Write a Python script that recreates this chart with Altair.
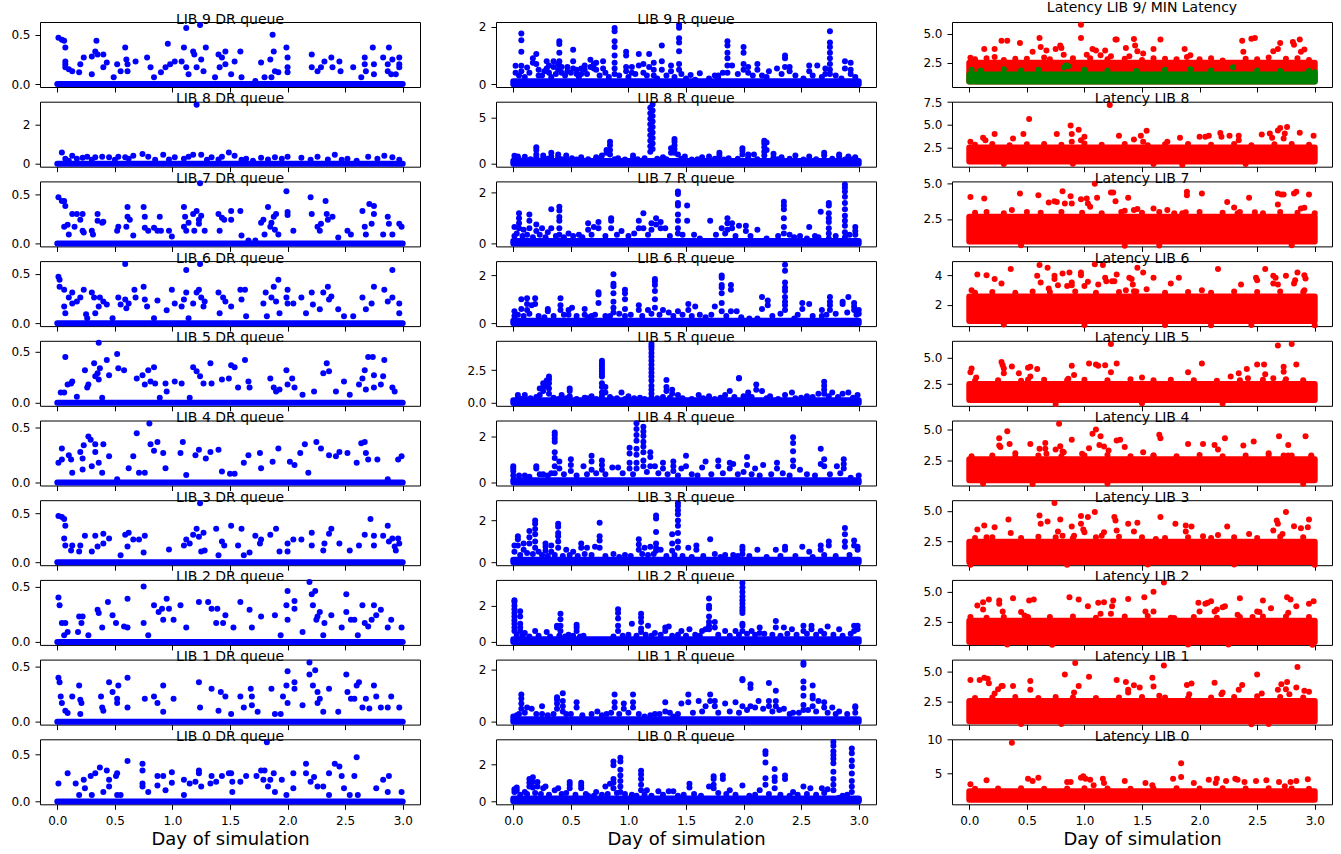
import altair as alt
import pandas as pd

BLUE, RED, GREEN = "#0000ff", "#ff0000", "#008000"
FONT = "DejaVu Sans"
W, H = 380, 65

LIBS = [9, 8, 7, 6, 5, 4, 3, 2, 1, 0]
DAY_START, DAY_END = 0.0, 3.0
X_LIMITS = [-0.15, 3.15]
X_TICKS = [0.0, 0.5, 1.0, 1.5, 2.0, 2.5, 3.0]

# ---------------- DR queue (x = day, y = queue) ----------------
DR = {
9: [(0.01,0.47),(0.04,0.45),(0.06,0.44),(0.07,0.37),(0.07,0.23),(0.07,0.2),(0.07,0.17),(0.1,0.15),(0.13,0.13),(0.19,0.12),(0.2,0.2),(0.23,0.27),(0.3,0.1),(0.3,0.28),(0.33,0.33),(0.34,0.44),(0.35,0.3),(0.4,0.3),(0.4,0.17),(0.43,0.22),(0.49,0.07),(0.52,0.2),(0.55,0.13),(0.59,0.37),(0.6,0.25),(0.61,0.13),(0.61,0.2),(0.68,0.23),(0.78,0.27),(0.81,0.17),(0.84,0.07),(0.9,0.12),(0.94,0.17),(0.96,0.41),(0.98,0.2),(1.02,0.23),(1.08,0.23),(1.1,0.37),(1.12,0.57),(1.12,0.17),(1.14,0.1),(1.18,0.33),(1.19,0.3),(1.21,0.17),(1.24,0.6),(1.25,0.25),(1.27,0.13),(1.29,0.37),(1.37,0.07),(1.4,0.3),(1.41,0.17),(1.43,0.27),(1.46,0.33),(1.46,0.2),(1.51,0.1),(1.54,0.23),(1.59,0.33),(1.6,0.07),(1.72,0.03),(1.77,0.22),(1.8,0.07),(1.85,0.25),(1.86,0.07),(1.87,0.5),(1.88,0.33),(1.89,0.13),(1.92,0.12),(1.99,0.37),(2.0,0.27),(2.0,0.17),(2.0,0.12),(2.21,0.3),(2.21,0.17),(2.26,0.13),(2.29,0.17),(2.32,0.23),(2.38,0.27),(2.39,0.17),(2.45,0.23),(2.46,0.13),(2.57,0.17),(2.64,0.07),(2.67,0.27),(2.67,0.2),(2.68,0.13),(2.74,0.37),(2.75,0.2),(2.75,0.1),(2.83,0.27),(2.88,0.37),(2.87,0.2),(2.87,0.13),(2.9,0.1),(2.91,0.25),(2.97,0.27),(2.97,0.2),(2.97,0.17),(2.94,0.1)],
8: [(0.04,0.57),(0.07,0.25),(0.13,0.4),(0.22,0.3),(0.26,0.36),(0.33,0.33),(0.39,0.36),(0.45,0.33),(0.53,0.36),(0.59,0.33),(0.66,0.4),(0.74,0.5),(0.79,0.36),(0.92,0.46),(1.02,0.33),(1.14,0.36),(1.18,0.46),(1.21,3.0),(1.25,0.46),(1.34,0.33),(1.43,0.36),(1.49,0.57),(1.54,0.4),(1.64,0.25),(1.77,0.3),(1.89,0.33),(2.0,0.36),(2.12,0.3),(2.26,0.36),(2.41,0.46),(2.52,0.25),(2.7,0.36),(2.84,0.4),(2.91,0.33),(2.97,0.2),(0.1,0.15),(0.5,0.2),(0.85,0.2),(1.3,0.2),(1.7,0.15),(2.2,0.2),(2.6,0.15),(0.17,0.25),(0.3,0.2),(0.62,0.25),(0.97,0.22),(1.1,0.25),(1.4,0.22),(1.6,0.2),(1.83,0.22),(1.95,0.25),(2.35,0.22),(2.47,0.2),(2.78,0.25)],
7: [(0.01,0.47),(0.04,0.43),(0.06,0.43),(0.07,0.38),(0.06,0.17),(0.09,0.19),(0.1,0.09),(0.13,0.3),(0.17,0.3),(0.22,0.3),(0.2,0.24),(0.15,0.17),(0.22,0.13),(0.23,0.11),(0.3,0.13),(0.31,0.09),(0.35,0.3),(0.35,0.23),(0.39,0.21),(0.4,0.22),(0.52,0.13),(0.53,0.17),(0.61,0.37),(0.61,0.27),(0.6,0.17),(0.63,0.24),(0.66,0.08),(0.75,0.37),(0.76,0.27),(0.76,0.16),(0.79,0.13),(0.84,0.16),(0.87,0.13),(0.89,0.27),(0.9,0.13),(0.97,0.13),(0.995,0.07),(1.1,0.37),(1.11,0.27),(1.1,0.17),(1.12,0.13),(1.14,0.21),(1.18,0.3),(1.19,0.13),(1.21,0.33),(1.23,0.24),(1.23,0.2),(1.24,0.61),(1.25,0.28),(1.28,0.13),(1.4,0.3),(1.41,0.13),(1.43,0.26),(1.45,0.24),(1.51,0.33),(1.51,0.24),(1.59,0.33),(1.6,0.08),(1.66,0.03),(1.72,0.03),(1.77,0.21),(1.79,0.24),(1.8,0.09),(1.83,0.37),(1.85,0.17),(1.86,0.21),(1.88,0.27),(1.89,0.14),(1.9,0.3),(1.92,0.09),(1.99,0.53),(2.0,0.32),(2.0,0.29),(2.05,0.13),(2.2,0.47),(2.21,0.3),(2.26,0.17),(2.28,0.13),(2.29,0.2),(2.33,0.43),(2.34,0.3),(2.35,0.24),(2.39,0.27),(2.44,0.06),(2.52,0.13),(2.55,0.09),(2.65,0.33),(2.67,0.17),(2.68,0.09),(2.71,0.4),(2.73,0.2),(2.75,0.38),(2.75,0.3),(2.83,0.09),(2.87,0.27),(2.88,0.2),(2.91,0.09),(2.97,0.2),(2.99,0.17)],
6: [(0.01,0.47),(0.02,0.44),(0.02,0.37),(0.06,0.34),(0.06,0.17),(0.07,0.1),(0.1,0.26),(0.13,0.31),(0.13,0.2),(0.17,0.22),(0.2,0.26),(0.23,0.34),(0.25,0.09),(0.26,0.05),(0.3,0.31),(0.32,0.26),(0.33,0.1),(0.36,0.17),(0.37,0.26),(0.4,0.22),(0.43,0.19),(0.48,0.05),(0.53,0.26),(0.55,0.19),(0.59,0.6),(0.59,0.24),(0.6,0.15),(0.62,0.2),(0.67,0.34),(0.68,0.26),(0.75,0.37),(0.76,0.24),(0.78,0.17),(0.84,0.05),(0.87,0.23),(0.95,0.13),(0.995,0.34),(1.02,0.2),(1.08,0.17),(1.1,0.24),(1.12,0.54),(1.12,0.31),(1.14,0.05),(1.18,0.2),(1.21,0.31),(1.23,0.34),(1.24,0.6),(1.25,0.26),(1.27,0.17),(1.28,0.22),(1.4,0.31),(1.41,0.1),(1.44,0.26),(1.46,0.22),(1.51,0.17),(1.59,0.34),(1.6,0.24),(1.63,0.34),(1.64,0.07),(1.79,0.2),(1.81,0.31),(1.82,0.07),(1.86,0.26),(1.88,0.37),(1.9,0.22),(1.92,0.44),(1.93,0.1),(1.99,0.26),(2.0,0.34),(2.0,0.2),(2.05,0.2),(2.12,0.26),(2.16,0.1),(2.21,0.31),(2.22,0.19),(2.28,0.14),(2.31,0.31),(2.35,0.37),(2.36,0.24),(2.38,0.27),(2.44,0.14),(2.49,0.07),(2.57,0.07),(2.65,0.26),(2.68,0.14),(2.73,0.2),(2.75,0.37),(2.84,0.34),(2.87,0.22),(2.91,0.54),(2.91,0.26),(2.97,0.2),(2.97,0.1)],
5: [(0.03,0.1),(0.06,0.1),(0.07,0.45),(0.09,0.18),(0.12,0.19),(0.13,0.21),(0.17,0.06),(0.24,0.32),(0.26,0.15),(0.27,0.18),(0.32,0.39),(0.33,0.26),(0.35,0.29),(0.36,0.59),(0.36,0.23),(0.37,0.34),(0.39,0.05),(0.43,0.42),(0.45,0.27),(0.52,0.48),(0.53,0.34),(0.58,0.32),(0.69,0.24),(0.74,0.27),(0.76,0.18),(0.79,0.32),(0.81,0.21),(0.84,0.35),(0.85,0.19),(0.89,0.05),(0.94,0.19),(0.95,0.11),(1.02,0.21),(1.08,0.19),(1.15,0.05),(1.18,0.35),(1.21,0.31),(1.24,0.26),(1.27,0.19),(1.33,0.39),(1.34,0.19),(1.43,0.23),(1.49,0.24),(1.51,0.37),(1.54,0.35),(1.57,0.15),(1.63,0.42),(1.66,0.21),(1.67,0.15),(1.85,0.24),(1.88,0.15),(1.9,0.11),(1.93,0.13),(1.99,0.32),(2.0,0.18),(2.04,0.24),(2.06,0.15),(2.13,0.08),(2.23,0.11),(2.31,0.29),(2.34,0.39),(2.36,0.31),(2.42,0.11),(2.49,0.21),(2.54,0.08),(2.62,0.18),(2.65,0.24),(2.67,0.32),(2.68,0.13),(2.7,0.45),(2.74,0.45),(2.75,0.27),(2.75,0.15),(2.81,0.18),(2.83,0.26),(2.84,0.42),(2.91,0.15),(2.93,0.11)],
4: [(0.01,0.18),(0.04,0.31),(0.04,0.21),(0.1,0.25),(0.12,0.21),(0.13,0.09),(0.2,0.28),(0.22,0.22),(0.22,0.12),(0.23,0.34),(0.27,0.42),(0.29,0.39),(0.3,0.15),(0.33,0.28),(0.33,0.35),(0.36,0.18),(0.39,0.09),(0.4,0.35),(0.45,0.24),(0.52,0.03),(0.62,0.13),(0.66,0.24),(0.69,0.45),(0.71,0.09),(0.8,0.54),(0.76,0.09),(0.81,0.35),(0.84,0.29),(0.87,0.37),(0.92,0.27),(0.94,0.13),(1.07,0.27),(1.09,0.37),(1.12,0.07),(1.2,0.25),(1.23,0.3),(1.29,0.22),(1.33,0.28),(1.4,0.3),(1.43,0.1),(1.5,0.08),(1.54,0.08),(1.62,0.18),(1.66,0.25),(1.76,0.27),(1.77,0.13),(1.87,0.19),(1.92,0.31),(2.02,0.19),(2.06,0.16),(2.11,0.27),(2.15,0.35),(2.18,0.09),(2.25,0.37),(2.29,0.31),(2.36,0.25),(2.42,0.24),(2.45,0.28),(2.52,0.27),(2.6,0.18),(2.64,0.36),(2.67,0.37),(2.68,0.27),(2.7,0.21),(2.78,0.21),(2.87,0.03),(2.96,0.21),(2.99,0.24)],
3: [(0.01,0.47),(0.04,0.46),(0.06,0.44),(0.07,0.37),(0.06,0.24),(0.07,0.17),(0.12,0.12),(0.13,0.17),(0.19,0.11),(0.2,0.17),(0.24,0.27),(0.3,0.11),(0.33,0.27),(0.35,0.16),(0.4,0.29),(0.4,0.19),(0.45,0.24),(0.55,0.07),(0.59,0.28),(0.61,0.16),(0.62,0.3),(0.66,0.23),(0.71,0.23),(0.75,0.1),(0.76,0.27),(0.97,0.13),(1.1,0.17),(1.12,0.23),(1.15,0.19),(1.18,0.28),(1.21,0.34),(1.23,0.26),(1.24,0.6),(1.25,0.11),(1.27,0.3),(1.28,0.12),(1.38,0.34),(1.4,0.07),(1.43,0.21),(1.45,0.17),(1.51,0.37),(1.57,0.17),(1.6,0.34),(1.62,0.07),(1.67,0.1),(1.72,0.27),(1.76,0.19),(1.77,0.23),(1.85,0.28),(1.9,0.34),(1.93,0.11),(2.0,0.19),(2.0,0.11),(2.05,0.23),(2.12,0.23),(2.21,0.3),(2.21,0.17),(2.31,0.12),(2.32,0.19),(2.36,0.29),(2.38,0.34),(2.45,0.19),(2.54,0.12),(2.62,0.17),(2.67,0.28),(2.72,0.44),(2.75,0.27),(2.75,0.17),(2.83,0.27),(2.87,0.37),(2.88,0.21),(2.91,0.24),(2.93,0.16),(2.94,0.12),(2.97,0.19),(2.96,0.24)],
2: [(0.01,0.4),(0.02,0.33),(0.04,0.17),(0.07,0.17),(0.06,0.06),(0.09,0.09),(0.19,0.23),(0.22,0.23),(0.21,0.17),(0.18,0.09),(0.27,0.06),(0.35,0.29),(0.36,0.26),(0.39,0.13),(0.44,0.36),(0.48,0.24),(0.51,0.17),(0.58,0.14),(0.61,0.39),(0.61,0.13),(0.75,0.5),(0.75,0.17),(0.79,0.06),(0.84,0.33),(0.88,0.27),(0.91,0.3),(0.92,0.2),(0.95,0.39),(0.97,0.3),(1.01,0.2),(1.07,0.33),(1.12,0.13),(1.23,0.36),(1.31,0.36),(1.34,0.3),(1.38,0.17),(1.39,0.3),(1.44,0.17),(1.46,0.24),(1.53,0.13),(1.59,0.36),(1.67,0.29),(1.69,0.13),(1.77,0.23),(1.89,0.24),(1.94,0.06),(1.99,0.33),(2.0,0.46),(2.0,0.2),(2.06,0.37),(2.06,0.3),(2.13,0.09),(2.19,0.54),(2.21,0.43),(2.24,0.46),(2.22,0.33),(2.25,0.2),(2.26,0.23),(2.28,0.27),(2.31,0.06),(2.32,0.17),(2.38,0.24),(2.47,0.13),(2.51,0.43),(2.51,0.27),(2.55,0.2),(2.58,0.2),(2.61,0.06),(2.65,0.33),(2.67,0.17),(2.7,0.14),(2.73,0.2),(2.75,0.33),(2.77,0.24),(2.81,0.29),(2.87,0.13),(2.9,0.2),(2.99,0.13)],
1: [(0.01,0.4),(0.02,0.36),(0.03,0.23),(0.04,0.17),(0.07,0.1),(0.09,0.08),(0.13,0.23),(0.19,0.33),(0.2,0.2),(0.21,0.17),(0.2,0.07),(0.38,0.23),(0.39,0.13),(0.4,0.1),(0.45,0.36),(0.48,0.27),(0.52,0.21),(0.52,0.17),(0.53,0.33),(0.61,0.4),(0.61,0.13),(0.76,0.21),(0.84,0.23),(0.87,0.17),(0.92,0.33),(0.92,0.09),(1.01,0.21),(1.23,0.36),(1.24,0.13),(1.34,0.3),(1.4,0.1),(1.42,0.27),(1.46,0.23),(1.51,0.07),(1.59,0.23),(1.62,0.13),(1.68,0.3),(1.69,0.23),(1.69,0.15),(1.74,0.09),(1.86,0.3),(1.89,0.07),(1.94,0.07),(1.96,0.23),(1.99,0.33),(2.0,0.46),(2.0,0.17),(2.06,0.36),(2.06,0.3),(2.13,0.15),(2.19,0.54),(2.19,0.43),(2.22,0.33),(2.24,0.47),(2.26,0.27),(2.26,0.17),(2.28,0.21),(2.31,0.09),(2.36,0.3),(2.44,0.09),(2.51,0.43),(2.52,0.27),(2.55,0.21),(2.58,0.21),(2.6,0.33),(2.62,0.36),(2.65,0.13),(2.68,0.21),(2.71,0.12),(2.75,0.33),(2.77,0.23),(2.81,0.13),(2.87,0.13),(2.9,0.23),(2.97,0.13)],
0: [(0.01,0.19),(0.09,0.3),(0.16,0.19),(0.19,0.07),(0.23,0.23),(0.24,0.14),(0.29,0.27),(0.3,0.07),(0.33,0.3),(0.37,0.36),(0.4,0.1),(0.43,0.33),(0.45,0.23),(0.45,0.16),(0.52,0.3),(0.51,0.27),(0.52,0.07),(0.55,0.07),(0.61,0.43),(0.74,0.4),(0.74,0.33),(0.74,0.19),(0.74,0.16),(0.79,0.1),(0.87,0.17),(0.87,0.27),(0.92,0.27),(0.94,0.12),(0.995,0.31),(0.995,0.2),(1.1,0.23),(1.1,0.07),(1.15,0.19),(1.2,0.21),(1.23,0.33),(1.23,0.3),(1.25,0.16),(1.33,0.19),(1.34,0.27),(1.38,0.21),(1.43,0.27),(1.49,0.3),(1.51,0.3),(1.52,0.21),(1.52,0.1),(1.59,0.21),(1.64,0.27),(1.73,0.27),(1.77,0.33),(1.79,0.23),(1.8,0.33),(1.82,0.63),(1.83,0.16),(1.85,0.23),(1.88,0.3),(1.89,0.1),(1.95,0.23),(1.99,0.07),(2.05,0.3),(2.05,0.14),(2.16,0.4),(2.16,0.3),(2.2,0.21),(2.23,0.26),(2.26,0.16),(2.31,0.16),(2.36,0.3),(2.36,0.07),(2.41,0.4),(2.45,0.37),(2.47,0.27),(2.49,0.14),(2.54,0.07),(2.58,0.27),(2.6,0.47),(2.61,0.07),(2.77,0.14),(2.83,0.23),(2.87,0.1),(2.88,0.27),(2.99,0.1)],
}

# ---------------- R queue: (day, [queue values at that day]) ----------------
R = {
9: [(0.02,[0.64,0.4]),(0.07,[1.77,1.53,1.13,0.64,0.45]),(0.12,[0.58]),(0.17,[0.9,0.75]),(0.2,[1.05,0.7]),(0.22,[0.5,0.3]),(0.29,[0.8,0.55]),(0.31,[0.65,0.4]),(0.35,[0.8,0.6]),(0.39,[0.7,0.5]),(0.4,[1.5,1.4,1.1,0.8,0.65]),(0.42,[0.6,0.4]),(0.47,[0.6,0.45]),(0.52,[1.2,0.8,0.55]),(0.55,[0.5,0.35]),(0.59,[0.55,0.35]),(0.62,[0.65,0.5]),(0.67,[0.85,0.6]),(0.7,[0.7,0.55]),(0.72,[0.75,0.5]),(0.78,[0.8,0.55]),(0.83,[0.25]),(0.88,[1.96,1.85,1.5,1.3,1.0,0.75,0.55,0.35]),(0.98,[1.13,1.0,0.6,0.45]),(1.03,[0.6,0.4]),(1.09,[1.05,0.65]),(1.13,[0.7,0.4]),(1.18,[1.05,0.6]),(1.22,[0.75,0.5,0.3]),(1.29,[1.35,0.8,0.5]),(1.37,[0.65,0.45]),(1.44,[2.07,1.97,1.6,1.45,1.15,0.7,0.5]),(1.46,[0.35]),(1.54,[0.32]),(1.62,[0.38]),(1.78,[0.3,0.2]),(1.86,[1.5,1.35,1.1,0.9,0.65,0.4]),(1.9,[0.65]),(2.0,[1.3,1.1,0.7,0.5]),(2.04,[0.6,0.4]),(2.12,[0.7,0.5]),(2.16,[0.3]),(2.22,[0.45]),(2.29,[0.55]),(2.36,[1.0,0.9,0.6]),(2.4,[0.6,0.45]),(2.57,[0.65,0.45]),(2.64,[0.65]),(2.71,[0.55,0.35]),(2.75,[1.85,1.45,1.3,1.1,0.9,0.7,0.5,0.35]),(2.88,[0.8,0.55]),(2.93,[0.75,0.5,0.35])],
8: [(0.01,[0.87,0.5]),(0.04,[0.8]),(0.1,[0.75,0.5]),(0.2,[1.8,1.5,1.0,0.7]),(0.26,[0.9,0.6]),(0.33,[1.2,0.8]),(0.39,[1.0,0.7]),(0.46,[0.9,0.6]),(0.51,[0.6]),(0.59,[0.7]),(0.72,[0.7]),(0.77,[0.9]),(0.81,[1.5,1.2]),(0.84,[2.4,2.0,1.5,1.0]),(0.91,[0.6]),(1.04,[0.9,0.6]),(1.14,[0.6]),(1.19,[6.1,5.5,4.9,4.3,3.7,3.1,2.5,1.9,1.3]),(1.21,[6.45,5.8,5.2,4.6,4.0,3.4,2.8,2.2,1.6]),(1.3,[0.7]),(1.37,[1.7,1.2]),(1.4,[2.7,2.4,2.0,1.6,1.2]),(1.43,[1.0]),(1.49,[0.8]),(1.64,[0.7]),(1.7,[0.8]),(1.79,[1.2,0.9]),(1.87,[0.6]),(1.99,[1.7,1.4,1.0]),(2.04,[1.0,0.7]),(2.09,[1.0]),(2.18,[2.5,2.2,1.8,1.3,0.9]),(2.2,[2.3,1.5]),(2.26,[1.1,0.7]),(2.33,[0.7]),(2.45,[0.9]),(2.57,[0.8]),(2.7,[1.2,0.9]),(2.83,[1.0,0.8]),(2.91,[0.8]),(2.97,[0.7])],
7: [(0.01,[0.65,0.3]),(0.05,[1.2,1.0,0.8,0.6]),(0.09,[0.55]),(0.14,[1.15,0.9,0.6]),(0.2,[0.75,0.5]),(0.25,[0.6]),(0.3,[0.45]),(0.33,[1.35,0.6]),(0.4,[1.45,1.3,1.05,0.9,0.6,0.35]),(0.48,[0.4]),(0.57,[0.35]),(0.65,[0.8,0.55]),(0.7,[0.65]),(0.74,[0.85,0.6]),(0.85,[1.0,0.9,0.6]),(0.94,[0.5]),(1.09,[0.9,0.6]),(1.13,[1.2,0.6]),(1.2,[0.8,0.55]),(1.24,[1.0,0.75]),(1.28,[0.85,0.6]),(1.32,[0.6]),(1.43,[2.05,1.95,1.6,1.5,1.15,0.9,0.6,0.4]),(1.51,[1.5,0.9]),(1.57,[0.35]),(1.71,[0.9]),(1.81,[0.6]),(1.86,[1.0,0.8,0.55]),(1.9,[0.8,0.6]),(1.96,[0.7]),(2.02,[0.7,0.5]),(2.12,[0.55]),(2.35,[1.65,1.5,1.35,1.0,0.65,0.4]),(2.44,[0.25]),(2.49,[0.3]),(2.57,[0.65]),(2.65,[0.25]),(2.67,[1.25]),(2.74,[1.6,1.5,1.2,1.0,0.85,0.6,0.4,0.2]),(2.88,[2.33,2.2,2.05,1.85,1.6,1.35,1.1,0.9,0.7,0.45,0.25]),(2.97,[0.65,0.5,0.35])],
6: [(0.01,[0.5,0.3]),(0.07,[1.0,0.6]),(0.12,[1.05,0.8,0.55]),(0.16,[0.75]),(0.19,[1.05,0.8]),(0.3,[0.6,0.5]),(0.41,[1.05,0.75,0.55]),(0.48,[0.55,0.35]),(0.51,[0.65]),(0.62,[0.6,0.35]),(0.68,[0.3]),(0.74,[1.3,1.2,0.85]),(0.8,[0.3]),(0.87,[2.05,1.65,1.55,1.25,0.9,0.65,0.45]),(0.97,[1.4,1.25,1.0,0.6,0.3]),(1.09,[0.75,0.55]),(1.17,[0.55]),(1.23,[1.85,1.75,1.6,1.35,1.0,0.65]),(1.3,[0.55]),(1.35,[0.45]),(1.43,[0.5]),(1.52,[0.8,0.55]),(1.58,[0.7]),(1.62,[0.35]),(1.75,[0.7]),(1.81,[2.0,1.9,1.6,1.5,1.25,0.85,0.5]),(1.89,[1.6,1.4,0.5]),(1.94,[0.5]),(2.12,[0.2]),(2.16,[1.1,0.6]),(2.21,[0.95,0.75]),(2.36,[2.45,2.2,1.7,1.5,1.35,1.1,0.9,0.75,0.55]),(2.44,[0.2]),(2.51,[0.85,0.6]),(2.57,[0.8]),(2.68,[0.55,0.3]),(2.75,[1.1,0.9,0.75,0.55]),(2.86,[0.9,0.8]),(2.91,[1.1]),(2.96,[0.85,0.7,0.55]),(3.0,[0.55,0.4])],
5: [(0.01,[0.15]),(0.04,[0.6,0.4]),(0.1,[0.6,0.4]),(0.23,[1.1,0.6]),(0.26,[1.5,1.2,0.9]),(0.29,[1.7,1.3]),(0.31,[2.0,1.8,1.5,1.1,0.7]),(0.42,[0.6]),(0.49,[1.1,0.9,0.5]),(0.62,[0.4]),(0.68,[0.5]),(0.77,[3.2,3.0,2.8,2.6,2.4,2.2,2.0,1.5,1.2,0.8,0.5]),(0.8,[1.2,0.8]),(0.86,[0.3]),(0.94,[0.8]),(1.0,[0.5]),(1.1,[0.4]),(1.2,[4.5,4.3,4.1,3.8,3.5,3.2,2.9,2.6,2.3,2.0,1.7,1.3,1.0,0.7,0.4]),(1.33,[1.75,1.2,0.9]),(1.38,[1.0,0.7]),(1.43,[0.6]),(1.61,[0.6]),(1.7,[0.5]),(1.84,[0.6]),(1.88,[0.9]),(1.96,[1.9,1.85]),(2.04,[0.8,0.6]),(2.11,[1.4,1.0]),(2.16,[0.9]),(2.23,[0.5]),(2.36,[0.6]),(2.42,[0.8]),(2.55,[0.5]),(2.65,[0.7]),(2.7,[1.6,1.3,1.0,0.7]),(2.77,[0.8]),(2.86,[0.7]),(2.91,[0.8]),(2.99,[0.6])],
4: [(0.0,[0.7,0.6,0.5,0.3]),(0.1,[0.3]),(0.2,[0.7,0.6]),(0.26,[0.35]),(0.36,[2.15,2.05,1.9,1.75,1.3,1.05,0.7,0.4]),(0.4,[0.9,0.6]),(0.5,[1.0,0.75,0.5]),(0.61,[0.7]),(0.68,[1.15,0.9,0.55]),(0.77,[0.95,0.75,0.55]),(0.86,[0.65]),(0.91,[0.65]),(1.01,[1.5,1.25,0.85,0.6]),(1.07,[2.55,2.3,2.05,1.8,1.45,1.2,0.85,0.6]),(1.13,[2.4,2.2,2.0,1.75,1.55,1.3,0.95,0.7]),(1.19,[1.3,1.1,0.7]),(1.23,[0.7]),(1.3,[0.85,0.6]),(1.39,[0.9,0.7,0.5]),(1.46,[0.6]),(1.5,[1.15,0.7]),(1.64,[0.65]),(1.67,[0.9]),(1.78,[0.95,0.7]),(1.88,[0.85,0.6]),(1.91,[0.8]),(2.03,[1.1,0.75]),(2.1,[0.6]),(2.17,[0.75]),(2.29,[0.85,0.6]),(2.43,[1.95,1.7,1.35,0.95,0.7]),(2.49,[0.55]),(2.67,[1.45,0.8]),(2.7,[1.0,0.7]),(2.81,[0.7]),(2.87,[1.0,0.8,0.6]),(3.0,[0.3])],
3: [(0.01,[0.8,0.5]),(0.04,[1.25,1.1,0.8]),(0.09,[0.9,0.6]),(0.14,[1.5,1.2,0.9]),(0.19,[2.0,1.85,1.6,1.35,1.0,0.7]),(0.22,[0.5]),(0.28,[0.9,0.75,0.55]),(0.33,[0.8,0.5]),(0.39,[1.85,1.7,1.4,1.25,1.0,0.7]),(0.46,[0.6]),(0.52,[0.5]),(0.59,[0.9,0.7]),(0.64,[0.7]),(0.71,[0.75]),(0.75,[1.9,1.25,1.05,0.7]),(0.87,[0.4]),(0.97,[0.35]),(1.09,[1.1,0.85,0.6]),(1.14,[0.7]),(1.19,[0.75]),(1.24,[2.25,2.1,1.45,0.9,0.7,0.55]),(1.28,[0.6]),(1.38,[1.35,0.9,0.55]),(1.43,[2.85,2.7,2.5,2.3,2.0,1.75,1.4,1.0,0.7]),(1.52,[0.7]),(1.59,[0.8,0.6]),(1.71,[1.1]),(1.75,[0.4]),(1.84,[0.35]),(1.91,[0.35]),(1.99,[0.75,0.6,0.4]),(2.12,[0.6]),(2.28,[0.6]),(2.36,[0.75,0.6]),(2.51,[0.75]),(2.57,[0.5]),(2.67,[0.8,0.6]),(2.74,[1.0,0.8]),(2.88,[1.65,1.35,1.0,0.75]),(2.96,[1.05,0.8]),(2.99,[0.75,0.6])],
2: [(0.01,[2.3,2.2,2.0,1.8,1.6,1.4,1.2,1.0,0.8,0.6]),(0.06,[1.7,1.4,1.0,0.8,0.6]),(0.1,[0.5]),(0.19,[0.6]),(0.29,[0.55]),(0.38,[0.9,0.8]),(0.41,[1.55,1.25,0.9,0.6]),(0.48,[0.4]),(0.55,[0.95,0.8,0.6]),(0.61,[0.35]),(0.91,[1.8,1.6,1.3,0.9,0.6]),(1.03,[1.0]),(1.11,[1.55,1.35,1.1,0.75,0.55]),(1.17,[0.9]),(1.23,[0.5]),(1.32,[0.8,0.6]),(1.35,[0.85]),(1.46,[0.6]),(1.53,[0.7]),(1.64,[0.6]),(1.67,[0.7]),(1.7,[2.4,2.0,1.85,1.4,1.1,0.9,0.7]),(1.75,[1.1,0.8]),(1.84,[0.6]),(1.93,[0.6]),(1.99,[3.25,3.0,2.75,2.5,2.3,2.1,1.9,1.75,1.6,1.0,0.9,0.6]),(2.07,[0.6]),(2.14,[0.8,0.5]),(2.28,[1.15,0.8]),(2.35,[0.8]),(2.42,[0.7]),(2.52,[0.9,0.6]),(2.59,[0.9,0.7]),(2.67,[0.6]),(2.73,[0.85]),(2.83,[0.7]),(2.96,[0.9,0.6]),(2.99,[0.9,0.7])],
1: [(0.0,[0.2]),(0.03,[0.25]),(0.07,[1.05,0.9,0.7,0.5]),(0.12,[0.55]),(0.16,[0.5]),(0.25,[0.6,0.3]),(0.38,[0.95,0.85,0.7,0.5]),(0.43,[1.1,0.8,0.6,0.4]),(0.46,[0.3]),(0.55,[0.75,0.55]),(0.73,[0.4]),(0.81,[0.3]),(0.88,[1.05,0.75,0.55]),(0.96,[0.7,0.5]),(1.04,[1.05,0.75,0.55]),(1.14,[0.2]),(1.23,[0.3]),(1.32,[0.75,0.4]),(1.39,[0.2]),(1.46,[0.7]),(1.52,[1.05,0.75]),(1.61,[0.8]),(1.67,[0.6]),(1.71,[1.05,0.8]),(1.75,[0.8,0.6]),(1.84,[0.7]),(1.93,[0.75]),(1.99,[1.65,1.6,0.6]),(2.06,[1.45,1.3,0.6]),(2.13,[0.8]),(2.22,[1.5,0.8,0.6]),(2.28,[1.2,0.8,0.6]),(2.35,[0.5]),(2.43,[0.35]),(2.52,[2.28,2.2,1.55,1.3,1.0,0.65,0.45]),(2.6,[1.4,1.0,0.9,0.6]),(2.65,[0.8]),(2.7,[0.75,0.55]),(2.77,[0.55]),(2.83,[0.4]),(2.97,[0.6,0.55,0.35])],
0: [(0.01,[0.65,0.5]),(0.03,[0.75,0.6]),(0.1,[0.5]),(0.14,[1.2,1.0,0.8]),(0.17,[1.3,1.05,0.75]),(0.21,[1.05,0.8]),(0.26,[0.7]),(0.28,[0.8]),(0.36,[0.6]),(0.39,[0.7]),(0.49,[1.05,0.9,0.7]),(0.59,[1.0,0.85,0.7]),(0.65,[0.3]),(0.72,[0.5]),(0.8,[0.8]),(0.84,[0.95]),(0.87,[2.15,1.95,1.2,1.0,0.7]),(0.93,[2.35,2.15,1.7,1.4,1.1,0.8,0.5]),(1.03,[0.35]),(1.11,[1.65,1.45,1.2,0.9,0.6]),(1.16,[0.6]),(1.26,[0.55]),(1.35,[0.55]),(1.39,[0.55]),(1.53,[0.95,0.75]),(1.7,[0.8]),(1.74,[1.35,1.2,0.9,0.7]),(1.82,[1.4,1.2]),(1.88,[0.6]),(1.99,[0.85]),(2.14,[0.6]),(2.19,[2.7,2.55,2.1,1.25,0.9]),(2.27,[1.75,1.3,1.1,0.7]),(2.36,[1.4,1.2]),(2.43,[0.5]),(2.52,[0.8]),(2.58,[0.7]),(2.68,[0.7]),(2.73,[0.65]),(2.78,[3.2,3.0,2.7,2.5,2.3,2.05,1.6,1.2,0.9,0.6]),(2.83,[0.2]),(2.94,[2.85,2.6,2.2,1.9,1.5,1.1,0.8,0.5]),(3.0,[0.1])],
}
# low-level R queue values just above the dense floor
R_LOW = {
9: [(0.05,0.3),(0.1,0.25),(0.14,0.4),(0.25,0.3),(0.27,0.45),(0.33,0.25),(0.37,0.35),(0.45,0.3),(0.5,0.4),(0.57,0.25),(0.64,0.35),(0.75,0.3),(0.8,0.4),(0.92,0.3),(1.0,0.25),(1.06,0.35),(1.16,0.3),(1.25,0.2),(1.33,0.3),(1.4,0.25),(1.5,0.2),(1.58,0.15),(1.7,0.2),(1.75,0.3),(1.82,0.4),(1.95,0.35),(2.08,0.3),(2.2,0.25),(2.33,0.35),(2.45,0.3),(2.52,0.2),(2.6,0.3),(2.68,0.25),(2.8,0.3),(2.85,0.2),(2.97,0.25)],
8: [(0.05,0.45),(0.15,0.5),(0.3,0.55),(0.42,0.5),(0.55,0.45),(0.65,0.5),(0.75,0.55),(0.88,0.5),(0.97,0.45),(1.08,0.5),(1.25,0.55),(1.33,0.5),(1.46,0.55),(1.55,0.45),(1.6,0.5),(1.75,0.55),(1.83,0.45),(1.95,0.55),(2.12,0.5),(2.3,0.5),(2.4,0.55),(2.52,0.45),(2.63,0.5),(2.77,0.55),(2.88,0.45),(2.95,0.5)],
7: [(0.03,0.4),(0.08,0.3),(0.12,0.35),(0.17,0.25),(0.23,0.35),(0.28,0.25),(0.37,0.3),(0.44,0.25),(0.52,0.3),(0.6,0.25),(0.68,0.35),(0.8,0.3),(0.9,0.35),(1.0,0.3),(1.05,0.4),(1.17,0.35),(1.36,0.3),(1.47,0.35),(1.62,0.2),(1.76,0.35),(1.84,0.4),(1.93,0.3),(2.06,0.3),(2.2,0.2),(2.3,0.3),(2.4,0.35),(2.55,0.2),(2.62,0.3),(2.8,0.3),(2.92,0.35)],
6: [(0.04,0.35),(0.09,0.3),(0.14,0.4),(0.22,0.3),(0.27,0.25),(0.35,0.3),(0.44,0.35),(0.55,0.3),(0.65,0.25),(0.71,0.35),(0.84,0.3),(0.92,0.4),(1.02,0.35),(1.12,0.3),(1.2,0.4),(1.27,0.35),(1.39,0.3),(1.47,0.35),(1.55,0.3),(1.67,0.25),(1.72,0.35),(1.85,0.3),(1.98,0.25),(2.05,0.2),(2.25,0.3),(2.32,0.4),(2.47,0.35),(2.6,0.3),(2.72,0.35),(2.8,0.4),(2.9,0.45),(2.98,0.35)],
5: [(0.07,0.3),(0.15,0.35),(0.2,0.45),(0.35,0.4),(0.39,0.3),(0.46,0.35),(0.55,0.3),(0.65,0.35),(0.72,0.3),(0.84,0.45),(0.9,0.35),(0.97,0.3),(1.05,0.35),(1.14,0.3),(1.25,0.35),(1.3,0.45),(1.36,0.4),(1.47,0.35),(1.55,0.3),(1.65,0.35),(1.75,0.3),(1.8,0.4),(1.92,0.45),(2.0,0.5),(2.07,0.45),(2.2,0.35),(2.3,0.3),(2.45,0.35),(2.5,0.4),(2.6,0.45),(2.74,0.5),(2.82,0.45),(2.95,0.4)],
4: [(0.05,0.3),(0.14,0.25),(0.23,0.35),(0.3,0.3),(0.33,0.4),(0.44,0.35),(0.55,0.3),(0.64,0.35),(0.72,0.4),(0.8,0.35),(0.95,0.4),(1.04,0.35),(1.16,0.45),(1.26,0.4),(1.34,0.35),(1.43,0.3),(1.55,0.35),(1.6,0.3),(1.72,0.35),(1.82,0.4),(1.95,0.35),(2.0,0.45),(2.07,0.35),(2.14,0.3),(2.24,0.35),(2.34,0.4),(2.4,0.3),(2.55,0.35),(2.62,0.3),(2.75,0.35),(2.84,0.4),(2.93,0.2)],
3: [(0.06,0.35),(0.12,0.45),(0.17,0.4),(0.25,0.35),(0.3,0.3),(0.36,0.35),(0.43,0.3),(0.49,0.35),(0.56,0.3),(0.62,0.4),(0.68,0.35),(0.8,0.3),(0.92,0.25),(1.02,0.3),(1.12,0.4),(1.17,0.35),(1.22,0.4),(1.33,0.3),(1.4,0.35),(1.47,0.3),(1.55,0.25),(1.65,0.3),(1.8,0.25),(1.95,0.3),(2.05,0.3),(2.2,0.25),(2.32,0.3),(2.45,0.3),(2.6,0.25),(2.7,0.35),(2.8,0.3),(2.92,0.35)],
2: [(0.03,0.4),(0.08,0.35),(0.14,0.3),(0.22,0.35),(0.32,0.3),(0.4,0.35),(0.45,0.3),(0.52,0.35),(0.58,0.3),(0.87,0.3),(0.95,0.35),(1.0,0.4),(1.07,0.35),(1.15,0.4),(1.2,0.35),(1.28,0.4),(1.38,0.35),(1.43,0.4),(1.5,0.35),(1.58,0.4),(1.62,0.35),(1.78,0.4),(1.88,0.35),(1.96,0.4),(2.03,0.45),(2.1,0.4),(2.18,0.45),(2.25,0.4),(2.32,0.35),(2.38,0.45),(2.46,0.4),(2.55,0.45),(2.63,0.4),(2.7,0.45),(2.78,0.4),(2.86,0.35),(2.93,0.45)],
1: [(0.05,0.3),(0.1,0.35),(0.2,0.3),(0.3,0.25),(0.35,0.3),(0.5,0.3),(0.6,0.25),(0.68,0.3),(0.77,0.25),(0.85,0.35),(0.92,0.3),(1.0,0.35),(1.09,0.3),(1.19,0.25),(1.27,0.3),(1.36,0.35),(1.43,0.3),(1.56,0.35),(1.64,0.4),(1.78,0.35),(1.88,0.4),(1.96,0.35),(2.03,0.45),(2.1,0.55),(2.17,0.5),(2.25,0.4),(2.31,0.45),(2.4,0.3),(2.48,0.35),(2.56,0.45),(2.63,0.4),(2.73,0.35),(2.8,0.3),(2.9,0.3)],
0: [(0.06,0.35),(0.12,0.4),(0.19,0.45),(0.24,0.4),(0.31,0.35),(0.42,0.4),(0.46,0.45),(0.54,0.35),(0.63,0.4),(0.7,0.3),(0.77,0.35),(0.82,0.4),(0.9,0.45),(0.97,0.4),(1.07,0.3),(1.14,0.35),(1.2,0.3),(1.3,0.35),(1.43,0.3),(1.48,0.35),(1.57,0.4),(1.63,0.3),(1.78,0.45),(1.85,0.4),(1.93,0.35),(2.05,0.3),(2.1,0.35),(2.22,0.4),(2.32,0.35),(2.4,0.3),(2.47,0.35),(2.55,0.4),(2.63,0.35),(2.7,0.45),(2.86,0.3),(2.9,0.35)],
}
# dense floor of each R queue (from 0 up to this value)
R_BASE = {9: 0.1, 8: 0.3, 7: 0.1, 6: 0.1, 5: 0.2, 4: 0.1, 3: 0.12, 2: 0.15, 1: 0.1, 0: 0.15}

# ---------------- Latency: isolated high values ----------------
LAT = {
9: [(0.01,2.93),(0.13,3.69),(0.22,3.69),(0.22,3.0),(0.28,4.4),(0.33,4.4),(0.44,4.2),(0.55,3.44),(0.61,4.63),(0.62,3.86),(0.67,3.55),(0.75,3.69),(0.79,3.98),(0.8,3.78),(0.82,3.2),(0.97,5.77),(0.97,4.63),(1.02,3.2),(1.07,3.69),(1.1,3.55),(1.14,3.15),(1.18,3.55),(1.23,3.07),(1.27,4.49),(1.28,4.49),(1.36,3.78),(1.39,3.07),(1.43,4.55),(1.44,3.98),(1.46,3.49),(1.51,3.3),(1.6,3.69),(1.66,4.49),(1.87,3.69),(1.89,3.0),(1.92,3.15),(2.37,4.4),(2.38,3.44),(2.45,4.57),(2.48,4.63),(2.64,3.49),(2.68,3.69),(2.7,4.2),(2.81,4.29),(2.82,4.06),(2.87,4.49),(2.88,3.44),(2.91,3.64)],
8: [(0.01,3.14),(0.12,3.57),(0.14,3.3),(0.22,4.0),(0.38,3.5),(0.47,4.0),(0.52,5.64),(0.76,4.0),(0.88,4.93),(0.89,4.0),(0.89,3.14),(0.95,4.46),(0.97,3.3),(1.0,3.68),(1.22,7.18),(1.3,3.79),(1.43,3.39),(1.49,3.79),(1.51,3.14),(1.54,4.36),(1.72,3.14),(1.83,3.57),(2.0,3.68),(2.05,3.68),(2.08,3.79),(2.18,4.1),(2.19,3.68),(2.26,3.79),(2.34,3.79),(2.34,3.3),(2.54,3.93),(2.61,4.04),(2.63,3.57),(2.68,4.39),(2.7,4.64),(2.73,3.5),(2.74,4.04),(2.76,4.75),(2.87,4.14),(2.99,3.79)],
7: [(0.01,4.06),(0.13,3.95),(0.37,3.13),(0.44,4.3),(0.6,4.18),(0.69,3.67),(0.74,3.76),(0.76,3.71),(0.81,4.46),(0.83,3.6),(0.88,4.11),(0.89,3.6),(0.97,3.9),(1.02,3.95),(1.03,3.6),(1.05,3.36),(1.09,5.0),(1.11,4.0),(1.23,4.37),(1.25,4.37),(1.27,3.76),(1.35,3.08),(1.38,4.0),(1.43,3.13),(1.46,3.2),(1.6,3.25),(1.72,3.13),(1.78,2.9),(1.88,2.97),(1.89,4.42),(1.89,4.18),(2.02,4.3),(2.24,3.71),(2.3,3.32),(2.33,2.9),(2.43,4.0),(2.48,2.97),(2.68,3.53),(2.68,4.3),(2.71,4.23),(2.73,4.23),(2.82,4.3),(2.84,4.42),(2.88,3.25),(2.91,3.3),(2.95,4.23)],
6: [(0.02,2.98),(0.07,4.05),(0.15,4.0),(0.22,3.73),(0.28,3.43),(0.36,4.41),(0.59,3.95),(0.61,4.68),(0.62,3.5),(0.68,4.5),(0.69,3.09),(0.74,3.95),(0.74,3.73),(0.77,3.32),(0.81,4.11),(0.85,3.27),(0.87,4.18),(0.89,3.5),(0.89,3.32),(0.97,4.18),(0.97,4.0),(1.0,3.27),(1.03,3.55),(1.09,4.73),(1.12,3.36),(1.16,4.68),(1.18,3.82),(1.19,3.59),(1.24,3.59),(1.26,3.59),(1.28,4.05),(1.36,2.98),(1.39,3.82),(1.41,3.73),(1.42,3.36),(1.43,2.91),(1.46,4.5),(1.51,4.18),(1.54,3.05),(1.6,3.82),(1.75,3.43),(1.82,3.82),(2.02,2.98),(2.16,4.41),(2.36,3.36),(2.49,3.82),(2.5,3.66),(2.57,4.41),(2.64,3.95),(2.64,3.43),(2.66,3.82),(2.68,3.36),(2.75,3.95),(2.82,3.43),(2.83,3.66),(2.85,4.18),(2.91,4.0),(2.92,3.77),(2.91,2.98)],
5: [(0.01,3.6),(0.02,3.96),(0.06,3.11),(0.28,4.57),(0.29,4.27),(0.3,3.96),(0.3,3.5),(0.37,4.15),(0.43,3.5),(0.51,4.02),(0.53,4.12),(0.59,3.9),(0.53,3.2),(0.51,2.9),(0.86,2.99),(0.89,4.21),(0.91,3.35),(1.04,4.42),(1.1,4.33),(1.12,4.21),(1.18,4.27),(1.23,6.25),(1.23,3.6),(1.28,4.42),(1.5,3.11),(1.9,3.6),(2.02,4.42),(2.27,3.2),(2.34,3.5),(2.41,3.9),(2.42,3.05),(2.5,4.33),(2.56,4.33),(2.57,3.41),(2.64,3.05),(2.68,6.1),(2.73,4.12),(2.73,3.66),(2.8,6.25),(2.84,4.33),(2.74,2.7)],
4: [(0.26,4.3),(0.26,3.71),(0.27,3.58),(0.33,4.87),(0.35,3.84),(0.4,3.09),(0.53,3.84),(0.61,3.44),(0.66,3.44),(0.66,3.92),(0.67,3.04),(0.75,3.39),(0.78,5.46),(0.79,3.66),(0.81,3.23),(0.82,3.17),(0.89,4.17),(0.98,3.04),(1.04,3.49),(1.07,4.65),(1.1,5.0),(1.14,4.46),(1.13,3.76),(1.17,3.63),(1.21,3.31),(1.28,4.11),(1.31,4.17),(1.35,3.58),(1.51,3.17),(1.6,2.9),(1.65,4.57),(1.66,4.3),(1.9,3.84),(2.03,3.84),(2.13,3.76),(2.16,3.39),(2.22,4.3),(2.38,3.71),(2.47,4.03),(2.6,3.09),(2.69,4.46),(2.73,2.9),(2.77,3.76),(2.77,2.9),(2.92,4.46),(2.97,2.9)],
3: [(0.07,3.49),(0.13,3.82),(0.15,2.86),(0.22,3.68),(0.34,4.31),(0.36,3.21),(0.61,4.64),(0.62,3.96),(0.68,4.15),(0.74,5.66),(0.77,3.32),(0.79,4.31),(0.81,2.99),(0.89,3.74),(0.91,2.99),(0.97,4.59),(0.97,3.96),(0.99,3.49),(1.0,3.27),(1.03,4.51),(1.09,4.92),(1.15,2.99),(1.17,3.27),(1.26,4.51),(1.27,4.23),(1.28,3.41),(1.38,3.96),(1.43,3.32),(1.46,4.04),(1.62,2.72),(1.66,4.51),(1.79,3.96),(1.88,3.82),(1.88,3.32),(1.93,3.74),(2.03,2.94),(2.16,3.05),(2.24,3.74),(2.43,3.13),(2.64,3.41),(2.67,4.23),(2.68,3.96),(2.72,3.13),(2.75,4.92),(2.82,3.76),(2.88,3.6),(2.94,3.68),(2.95,4.31)],
2: [(0.07,3.86),(0.12,4.13),(0.12,3.53),(0.17,4.35),(0.26,4.27),(0.26,4.0),(0.29,3.37),(0.38,4.46),(0.45,3.32),(0.48,3.04),(0.51,2.91),(0.52,4.27),(0.56,4.35),(0.87,4.54),(0.95,4.35),(1.03,3.8),(1.12,4.08),(1.14,3.18),(1.17,4.13),(1.23,3.18),(1.24,3.8),(1.25,4.27),(1.38,4.4),(1.52,4.54),(1.53,3.37),(1.6,5.0),(1.6,3.37),(1.69,5.76),(1.78,2.83),(1.99,4.08),(2.0,3.37),(2.05,4.0),(2.07,4.08),(2.1,4.21),(2.13,3.37),(2.15,3.53),(2.2,3.72),(2.22,3.8),(2.33,3.1),(2.35,4.46),(2.46,2.91),(2.5,3.37),(2.52,3.32),(2.55,4.27),(2.62,3.64),(2.76,4.54),(2.77,3.26),(2.79,4.35),(2.84,3.8),(2.95,4.0),(2.99,4.21)],
1: [(0.01,4.31),(0.09,4.31),(0.13,4.51),(0.16,4.42),(0.17,4.04),(0.22,3.19),(0.25,3.54),(0.28,3.82),(0.29,3.82),(0.38,3.82),(0.53,4.23),(0.53,3.49),(0.83,4.78),(0.91,3.27),(0.92,5.74),(0.95,3.82),(1.04,4.59),(1.28,4.31),(1.36,4.15),(1.38,3.49),(1.38,3.27),(1.43,3.87),(1.48,3.68),(1.59,4.51),(1.6,3.76),(1.65,2.99),(1.69,5.52),(1.89,3.9),(1.91,3.13),(1.93,4.01),(2.13,4.09),(2.19,3.13),(2.2,3.27),(2.34,3.49),(2.37,3.9),(2.5,4.78),(2.54,3.19),(2.68,3.49),(2.71,3.96),(2.75,3.54),(2.76,4.15),(2.78,3.13),(2.84,3.68),(2.85,5.41),(2.91,3.41),(2.95,3.32)],
0: [(0.01,3.48),(0.15,4.05),(0.37,9.52),(0.51,4.29),(0.55,3.95),(0.6,4.43),(0.85,3.81),(0.88,3.81),(0.97,4.43),(0.99,4.62),(1.01,4.29),(1.05,4.14),(1.08,3.33),(1.16,4.29),(1.17,3.67),(1.35,3.95),(1.53,3.67),(1.59,3.33),(1.77,4.29),(1.84,6.52),(1.84,4.52),(1.95,3.67),(2.08,4.14),(2.14,3.67),(2.15,4.29),(2.23,3.95),(2.31,4.29),(2.33,4.14),(2.39,3.81),(2.49,3.95),(2.58,4.05),(2.69,3.81),(2.74,3.19),(2.79,3.81),(2.84,3.95),(2.94,4.19)],
}
# latency values on the ragged upper / lower edge of the dense band
LAT_EDGE = {
9: [(0.05,2.8),(0.15,2.9),(0.3,2.75),(0.4,2.85),(0.5,2.85),(0.65,2.95),(0.7,2.8),(0.9,2.9),(1.05,2.9),(1.2,2.8),(1.35,2.85),(1.5,2.75),(1.6,2.9),(1.7,2.85),(1.8,2.8),(2.0,2.8),(2.1,2.9),(2.2,2.7),(2.4,2.85),(2.5,2.8),(2.6,2.95),(2.75,2.85),(2.85,2.9),(2.95,2.75)],
8: [(0.05,2.8),(0.2,2.9),(0.35,2.75),(0.5,2.85),(0.65,2.9),(0.8,2.8),(1.0,2.95),(1.15,2.8),(1.35,2.9),(1.55,2.75),(1.7,2.85),(1.9,2.9),(2.1,2.8),(2.3,2.9),(2.45,2.75),(2.65,2.85),(2.8,2.9),(2.95,2.8),(0.3,0.7),(0.9,0.72),(1.6,0.7),(1.85,0.6),(2.4,0.68)],
7: [(0.05,2.95),(0.15,3.0),(0.3,2.9),(0.5,3.0),(0.62,2.95),(0.8,3.0),(0.98,2.95),(1.15,2.9),(1.32,3.0),(1.5,2.95),(1.65,3.0),(1.85,2.9),(2.0,3.0),(2.2,2.95),(2.35,3.0),(2.55,2.9),(2.7,3.0),(2.85,2.95),(3.0,2.9),(0.45,0.65),(1.35,0.6),(1.65,0.62),(2.8,0.65)],
6: [(0.05,2.8),(0.2,2.85),(0.4,2.8),(0.55,2.9),(0.7,2.85),(0.92,2.9),(1.1,2.8),(1.3,2.85),(1.45,2.9),(1.7,2.8),(1.9,2.85),(2.1,2.8),(2.3,2.9),(2.5,2.85),(2.7,2.9),(2.9,2.85),(0.3,0.65),(1.0,0.62),(1.7,0.62),(2.1,0.6),(2.45,0.63),(3.0,0.6)],
5: [(0.05,2.8),(0.25,2.85),(0.45,2.8),(0.65,2.9),(0.85,2.85),(1.0,2.9),(1.2,2.85),(1.4,2.95),(1.6,2.85),(1.75,2.9),(1.95,2.85),(2.15,2.8),(2.35,2.85),(2.55,2.9),(2.75,2.95),(2.9,2.85),(0.75,0.62),(1.5,0.7),(2.2,0.68)],
4: [(0.02,2.85),(0.2,2.9),(0.4,2.85),(0.6,2.9),(0.8,2.85),(1.0,2.9),(1.2,2.95),(1.4,2.85),(1.6,2.9),(1.8,2.85),(2.0,2.95),(2.2,2.85),(2.4,2.9),(2.6,2.95),(2.8,2.9),(2.97,2.85),(0.12,0.65),(0.55,0.6),(1.2,0.65),(2.9,0.62)],
3: [(0.05,2.8),(0.2,2.85),(0.45,2.8),(0.6,2.9),(0.75,2.85),(0.9,2.8),(1.1,2.85),(1.3,2.9),(1.5,2.85),(1.7,2.8),(1.9,2.85),(2.1,2.8),(2.3,2.85),(2.5,2.8),(2.7,2.9),(2.9,2.85),(0.01,0.62),(0.85,0.62),(1.55,0.64),(2.3,0.63),(3.0,0.62)],
2: [(0.01,2.9),(0.15,2.85),(0.3,2.9),(0.5,2.85),(0.7,2.9),(0.9,2.95),(1.1,2.85),(1.35,2.95),(1.55,3.0),(1.75,2.85),(1.95,2.9),(2.15,2.85),(2.35,2.9),(2.55,2.95),(2.75,2.95),(2.95,2.9),(0.33,0.64),(0.72,0.62),(1.9,0.64),(2.25,0.63),(2.98,0.62)],
1: [(0.05,2.8),(0.2,2.85),(0.4,2.9),(0.6,2.8),(0.75,2.9),(0.9,2.85),(1.1,2.8),(1.3,2.85),(1.5,2.9),(1.7,2.85),(1.9,2.8),(2.1,2.85),(2.3,2.9),(2.5,2.95),(2.7,2.9),(2.9,2.85),(0.45,0.62),(0.8,0.64),(2.45,0.6),(2.6,0.62)],
0: [(0.05,2.8),(0.25,2.85),(0.45,2.9),(0.65,2.8),(0.85,2.85),(1.0,2.9),(1.2,2.85),(1.4,2.8),(1.6,2.85),(1.8,2.9),(2.0,2.85),(2.2,2.9),(2.4,2.85),(2.6,2.9),(2.8,2.85),(2.95,2.8)],
}
# dense latency band (low, high) per LIB
LAT_BAND = {9: (0.9, 2.5), 8: (0.95, 2.5), 7: (0.9, 2.65), 6: (0.9, 2.55), 5: (1.0, 2.5),
            4: (0.9, 2.6), 3: (0.85, 2.5), 2: (0.85, 2.6), 1: (0.85, 2.55), 0: (1.2, 2.45)}
# LIB 9 / MIN latency (green)
MIN_BAND = (0.9, 1.5)
MIN_PTS = [(0.02,1.9),(0.1,1.85),(0.3,1.95),(0.45,1.85),(0.6,1.9),(0.82,2.1),(0.84,2.27),(0.86,2.2),(1.0,1.9),(1.2,1.85),(1.45,1.8),(1.7,1.9),(1.92,1.95),(2.1,1.85),(2.29,2.13),(2.5,1.85),(2.7,1.8),(2.95,1.8),(3.0,1.7)]

# ---------------- axis limits and ticks ----------------
DR_YLIM = {9: [-0.03, 0.63], 8: [-0.15, 3.15], 7: [-0.03, 0.63], 6: [-0.03, 0.63], 5: [-0.03, 0.61],
           4: [-0.027, 0.567], 3: [-0.03, 0.63], 2: [-0.027, 0.56], 1: [-0.027, 0.567], 0: [-0.03, 0.66]}
DR_TICKS = {k: [0.0, 0.5] for k in LIBS}
DR_TICKS[8] = [0, 2]
R_YLIM = {9: [-0.1, 2.17], 8: [-0.32, 6.75], 7: [-0.11, 2.45], 6: [-0.12, 2.6], 5: [-0.22, 4.72],
          4: [-0.13, 2.67], 3: [-0.14, 2.98], 2: [-0.16, 3.42], 1: [-0.11, 2.4], 0: [-0.16, 3.35]}
R_TICKS = {k: [0, 2] for k in LIBS}
R_TICKS[8] = [0, 5]
R_TICKS[5] = [0.0, 2.5]
LAT_YLIM = {9: [0.43, 6.0], 8: [0.39, 7.55], 7: [0.56, 5.16], 6: [0.55, 4.95], 5: [0.46, 6.55],
            4: [0.48, 5.73], 3: [0.58, 5.88], 2: [0.6, 5.98], 1: [0.58, 6.02], 0: [0.55, 10.02]}
LAT_TICKS = {k: [2.5, 5.0] for k in LIBS}
LAT_TICKS[8] = [2.5, 5.0, 7.5]
LAT_TICKS[6] = [2, 4]
LAT_TICKS[0] = [5, 10]


def fmt_for(ticks):
    return ".1f" if any(isinstance(t, float) for t in ticks) else "d"


def pts_df(pairs):
    return pd.DataFrame(pairs, columns=["x", "y"])


def stacks_df(stacks):
    return pts_df([(x, y) for x, ys in stacks for y in ys])


def band_df(lo, hi):
    return pd.DataFrame({"x": [DAY_START], "x2": [DAY_END], "y": [lo], "y2": [hi]})


def make_panel(title, title_y, ylim, yticks, bottom, layers):
    xs = alt.Scale(domain=X_LIMITS, nice=False, zero=False)
    ys = alt.Scale(domain=ylim, nice=False, zero=False)
    if bottom:
        xaxis = alt.Axis(values=X_TICKS, format=".1f", title="Day of simulation")
    else:
        xaxis = alt.Axis(values=X_TICKS, labels=False, title=None)
    yaxis = alt.Axis(values=yticks, format=fmt_for(yticks), title=None)
    xenc = alt.X("x:Q", scale=xs, axis=xaxis)
    yenc = alt.Y("y:Q", scale=ys, axis=yaxis)
    charts = []
    for kind, df, color in layers:
        if kind == "band":
            charts.append(alt.Chart(df).mark_rect(color=color, stroke=color, strokeWidth=6,
                                                  strokeJoin="round")
                          .encode(x=xenc, x2="x2:Q", y=yenc, y2="y2:Q"))
        else:
            charts.append(alt.Chart(df).mark_circle(color=color, size=36, opacity=1)
                          .encode(x=xenc, y=yenc))
    charts.append(alt.Chart(pd.DataFrame({"t": [title]}))
                  .mark_text(font=FONT, fontSize=14, color="black", align="center", baseline="middle")
                  .encode(text="t:N", x=alt.value(W / 2), y=alt.value(title_y)))
    return alt.layer(*charts).properties(width=W, height=H)


panels = []
for lib in LIBS:
    bottom = lib == 0
    panels.append(make_panel(f"LIB {lib} DR queue", -2.5, DR_YLIM[lib], DR_TICKS[lib], bottom,
                             [("band", band_df(0.0, 0.0), BLUE), ("pts", pts_df(DR[lib]), BLUE)]))
    panels.append(make_panel(f"LIB {lib} R queue", -2.5, R_YLIM[lib], R_TICKS[lib], bottom,
                             [("band", band_df(0.0, R_BASE[lib]), BLUE),
                              ("pts", pts_df(R_LOW[lib]), BLUE),
                              ("pts", stacks_df(R[lib]), BLUE)]))
    lo, hi = LAT_BAND[lib]
    layers = [("band", band_df(lo, hi), RED), ("pts", pts_df(LAT_EDGE[lib]), RED),
              ("pts", pts_df(LAT[lib]), RED)]
    if lib == 9:
        layers += [("band", band_df(*MIN_BAND), GREEN), ("pts", pts_df(MIN_PTS), GREEN)]
        title, ty = "Latency LIB 9/ MIN Latency", -14
    else:
        title, ty = f"Latency LIB {lib}", -2.5
    panels.append(make_panel(title, ty, LAT_YLIM[lib], LAT_TICKS[lib], bottom, layers))

chart = (
    alt.concat(*panels, columns=3, spacing={"row": 14.7, "column": 76}, bounds="flush")
    .properties(padding={"left": 10, "top": 0, "right": 5, "bottom": 5})
    .configure_view(stroke="black", strokeWidth=1)
    .configure_axis(domain=False, grid=False, tickColor="black", tickSize=5, tickWidth=1,
                    labelFont=FONT, labelFontSize=12, labelColor="black", labelFlush=False,
                    titleFont=FONT, titleFontSize=18, titleFontWeight="normal", titleColor="black")
    .configure_axisX(labelPadding=6, titlePadding=4)
    .configure_axisY(labelPadding=5)
)

chart.save("out.html", embed_options={"renderer": "svg", "actions": False})
